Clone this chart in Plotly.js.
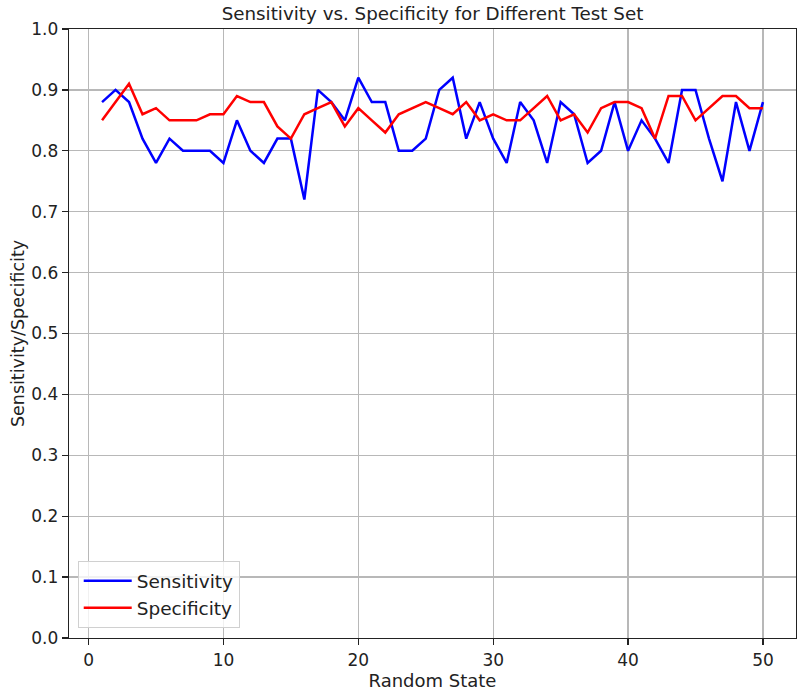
<!DOCTYPE html>
<html>
<head>
<meta charset="utf-8">
<script src="https://cdn.plot.ly/plotly-3.0.1.min.js"></script>
<style>html,body{margin:0;padding:0;background:#fff;}#chart{width:797px;height:691px;}</style>
</head>
<body>
<div id="chart"></div>
<script>
const randomState = [1,2,3,4,5,6,7,8,9,10,11,12,13,14,15,16,17,18,19,20,21,22,23,24,25,26,27,28,29,30,31,32,33,34,35,36,37,38,39,40,41,42,43,44,45,46,47,48,49,50];
const sensitivity = [0.88,0.90,0.88,0.82,0.78,0.82,0.80,0.80,0.80,0.78,
                     0.85,0.80,0.78,0.82,0.82,0.72,0.90,0.88,0.85,0.92,
                     0.88,0.88,0.80,0.80,0.82,0.90,0.92,0.82,0.88,0.82,
                     0.78,0.88,0.85,0.78,0.88,0.86,0.78,0.80,0.88,0.80,
                     0.85,0.82,0.78,0.90,0.90,0.82,0.75,0.88,0.80,0.88];
const specificity = [0.85,0.88,0.91,0.86,0.87,0.85,0.85,0.85,0.86,0.86,
                     0.89,0.88,0.88,0.84,0.82,0.86,0.87,0.88,0.84,0.87,
                     0.85,0.83,0.86,0.87,0.88,0.87,0.86,0.88,0.85,0.86,
                     0.85,0.85,0.87,0.89,0.85,0.86,0.83,0.87,0.88,0.88,
                     0.87,0.82,0.89,0.89,0.85,0.87,0.89,0.89,0.87,0.87];
const yTicks = [0,0.1,0.2,0.3,0.4,0.5,0.6,0.7,0.8,0.9,1.0];
const xTicks = [0,10,20,30,40,50];

const font = 'DejaVu Sans, sans-serif';
const ink = '#222';
const traces = [
  {x: randomState, y: sensitivity, type: 'scatter', mode: 'lines', name: 'Sensitivity',
   line: {color: '#0000ff', width: 2.5}},
  {x: randomState, y: specificity, type: 'scatter', mode: 'lines', name: 'Specificity',
   line: {color: '#ff0000', width: 2.5}}
];
const layout = {
  width: 797, height: 691,
  margin: {l: 69, r: 1, t: 29, b: 53},
  paper_bgcolor: '#fff', plot_bgcolor: '#fff',
  font: {family: font, color: ink, size: 17},
  title: {text: 'Sensitivity vs. Specificity for Different Test Set', font: {family: font, size: 18.3, color: ink},
          x: 0.5, xref: 'paper', y: 1, yref: 'paper', yanchor: 'bottom', pad: {b: 9}},
  xaxis: {range: [-1.45, 52.45], tickvals: xTicks, ticks: 'outside', ticklen: 6, tickwidth: 1.2, tickcolor: ink,
          showgrid: true, gridcolor: '#b8b8b8', gridwidth: 1.3, zeroline: false,
          showline: true, linecolor: ink, linewidth: 1.3, mirror: true,
          tickfont: {family: font, size: 17, color: ink},
          title: {text: 'Random State', font: {family: font, size: 18, color: ink}, standoff: 4}},
  yaxis: {range: [0, 1.0], tickvals: yTicks, tickformat: '.1f', ticks: 'outside', ticklen: 6, tickwidth: 1.2, tickcolor: ink,
          showgrid: true, gridcolor: '#b8b8b8', gridwidth: 1.3, zeroline: false,
          showline: true, linecolor: ink, linewidth: 1.3, mirror: true,
          tickfont: {family: font, size: 17, color: ink},
          title: {text: 'Sensitivity/Specificity', font: {family: font, size: 17.5, color: ink}, standoff: 2}},
  showlegend: true,
  legend: {x: 0.012, y: 0.016, xanchor: 'left', yanchor: 'bottom', bgcolor: 'rgba(255,255,255,0.8)',
           bordercolor: '#d0d0d0', borderwidth: 1, font: {family: font, size: 18.5, color: ink},
           tracegroupgap: 0, itemwidth: 48}
};
Plotly.newPlot('chart', traces, layout, {displayModeBar: false, staticPlot: true});
</script>
</body>
</html>
